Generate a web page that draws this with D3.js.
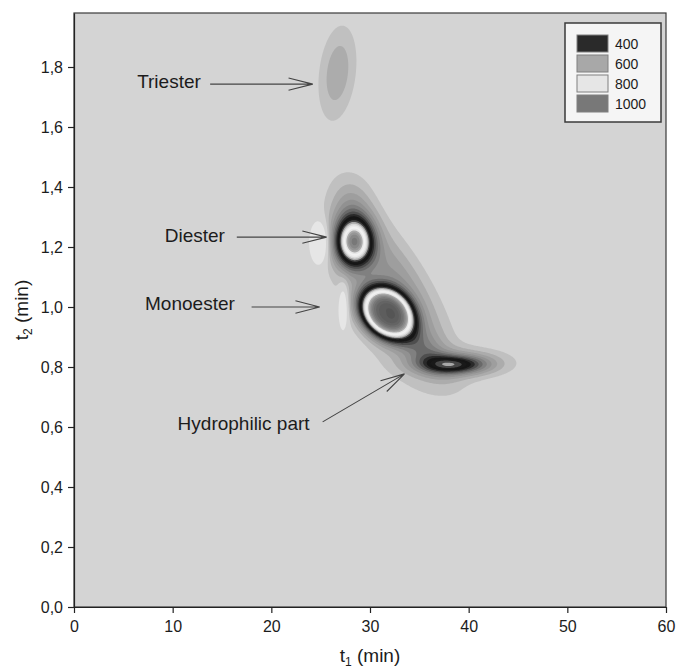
<!DOCTYPE html>
<html>
<head>
<meta charset="utf-8">
<script src="https://cdn.jsdelivr.net/npm/d3@7"></script>
<style>
  body { margin: 0; background: #ffffff; }
  svg { display: block; }
  text { font-family: "Liberation Sans", Arial, sans-serif; fill: #1c1c1c; }
</style>
</head>
<body>
<svg id="chart" width="683" height="669"></svg>
<script>
// ---- Axis ranges and tick labels (retention times, min) ----
const t1Domain = [0, 60];
const t2Domain = [0, 1.98];
const t1Ticks = [0, 10, 20, 30, 40, 50, 60];
const t2Ticks = [0.0, 0.2, 0.4, 0.6, 0.8, 1.0, 1.2, 1.4, 1.6, 1.8];

// ---- Signal components of the GCxGC surface ----
// centre (t1, t2), height, spread along t1 and t2, peak shape exponent,
// ridge slope (t2 per min of t1) and lean (min of t1 per unit of t2)
const compName   = ["Triester", "Diester", "Diester front", "Diester shoulder", "Monoester", "Monoester skirt", "Bridge", "Hydrophilic part", "Hydrophilic tail", "Baseline dip D", "Baseline dip M"];
const compT1     = [26.7,  28.4,  28.0,  32.8,  31.7,  32.0,  35.3,  38.5,   40.0,  24.9,  27.3];
const compT2     = [1.78,  1.215, 1.31,  1.10,  0.98,  0.97,  0.86,  0.808,  0.815, 1.215, 1.00];
const compHeight = [140,   850,   150,   140,   1000,  150,   140,   390,    130,   -280,  -200];
const compSdT1   = [1.3,   1.26,  1.5,   3.4,   2.15,  3.8,   2.0,   2.3,    3.2,   0.6,   0.35];
const compSdT2   = [0.11,  0.054, 0.08,  0.10,  0.066, 0.12,  0.05,  0.0215, 0.035, 0.045, 0.05];
const compShape  = [1,     1,     1,     1,     1.5,   1,     1,     1,      1,     1,     1];
const compSlope  = [0,     0,     0,     -0.04, -0.008, -0.03, -0.02, 0,     0,     0,     0];
const compLean   = [3,     0,     0,     0,     0,     0,     0,     0,      0,     0,     0];

// ---- Contour levels and grey scale ----
const levels = d3.range(50, 1251, 50);
const greyStops  = [-1000, 0,   50,  100, 150, 200, 250, 300, 350, 400, 450, 500, 550, 600, 650, 700, 750, 800, 850, 900, 950, 1000, 1100, 1200];
const greyValues = [230,   212, 192, 172, 158, 145, 128, 105, 78,  42,  22,  25,  70,  168, 215, 235, 242, 230, 170, 150, 135, 120,  100,  85];
const dipLevel = -40;
const dipGrey = 230;

// ---- Legend ----
const legendLevels = [400, 600, 800, 1000];

// ---- Annotations (positions in t1/t2 units) ----
const noteText  = ["Triester", "Diester", "Monoester", "Hydrophilic part"];
const noteTextT1 = [6.4, 9.2, 7.2, 10.5];
const noteTextT2 = [1.73, 1.217, 0.99, 0.59];
const noteFromT1 = [13.8, 16.5, 18.0, 25.2];
const noteFromT2 = [1.743, 1.233, 1.0, 0.617];
const noteToT1   = [24.2, 25.6, 24.9, 33.5];
const noteToT2   = [1.743, 1.233, 1.0, 0.777];

// ---- Layout ----
const svg = d3.select("#chart");
const plot = { left: 74, right: 666, top: 13, bottom: 607 };

const x = d3.scaleLinear().domain(t1Domain).range([plot.left, plot.right]);
const y = d3.scaleLinear().domain(t2Domain).range([plot.bottom, plot.top]);

const greyScale = d3.scaleLinear().domain(greyStops).range(greyValues).clamp(true);
const greyOf = v => { const g = Math.round(greyScale(v)); return `rgb(${g},${g},${g})`; };

// ---- Build the intensity grid from the components ----
const t1Step = 0.1, t2Step = 0.004;
const nx = Math.round((t1Domain[1] - t1Domain[0]) / t1Step) + 1;
const ny = Math.round((t2Domain[1] - t2Domain[0]) / t2Step) + 1;
const grid = new Float64Array(nx * ny);
for (let j = 0; j < ny; j++) {
  const t2 = t2Domain[0] + j * t2Step;
  for (let i = 0; i < nx; i++) {
    const t1 = t1Domain[0] + i * t1Step;
    let v = 0;
    for (let k = 0; k < compName.length; k++) {
      const dx = t1 - compT1[k], dy = t2 - compT2[k];
      const u = (dx - compLean[k] * dy) / compSdT1[k];
      const w = (dy - compSlope[k] * dx) / compSdT2[k];
      let q = u * u + w * w;
      if (q > 60) continue;
      if (compShape[k] !== 1) q = Math.pow(q, compShape[k]);
      v += compHeight[k] * Math.exp(-0.5 * q);
    }
    grid[j * nx + i] = v;
  }
}

// grid coordinates -> screen coordinates (grid samples sit at cell centres)
const gridProjection = d3.geoTransform({
  point: function (gx, gy) {
    this.stream.point(x(t1Domain[0] + (gx - 0.5) * t1Step), y(t2Domain[0] + (gy - 0.5) * t2Step));
  }
});
const path = d3.geoPath(gridProjection);

svg.append("defs").append("clipPath").attr("id", "plot-clip")
  .append("rect")
  .attr("x", plot.left).attr("y", plot.top)
  .attr("width", plot.right - plot.left).attr("height", plot.bottom - plot.top);

const surface = svg.append("g").attr("clip-path", "url(#plot-clip)");

surface.append("rect")
  .attr("x", plot.left).attr("y", plot.top)
  .attr("width", plot.right - plot.left).attr("height", plot.bottom - plot.top)
  .attr("fill", greyOf(0));

// regions below the baseline
const negGrid = grid.map(v => -v);
const dips = d3.contours().size([nx, ny]).thresholds([-dipLevel])(negGrid);
surface.selectAll("path.dip").data(dips).join("path")
  .attr("class", "dip")
  .attr("d", path)
  .attr("fill", `rgb(${dipGrey},${dipGrey},${dipGrey})`);

// filled contour bands
const bands = d3.contours().size([nx, ny]).thresholds(levels)(grid);
surface.selectAll("path.band").data(bands).join("path")
  .attr("class", "band")
  .attr("d", path)
  .attr("fill", d => greyOf(d.value));

// plot frame
svg.append("rect")
  .attr("x", plot.left).attr("y", plot.top)
  .attr("width", plot.right - plot.left).attr("height", plot.bottom - plot.top)
  .attr("fill", "none").attr("stroke", "#3a3a3a").attr("stroke-width", 1.2);

// ---- Axes ----
const fmtComma = v => d3.format(".1f")(v).replace(".", ",");

const xAxis = svg.append("g")
  .attr("transform", `translate(0,${plot.bottom})`)
  .call(d3.axisBottom(x).tickValues(t1Ticks).tickSize(6).tickPadding(8).tickSizeOuter(0));
const yAxis = svg.append("g")
  .attr("transform", `translate(${plot.left},0)`)
  .call(d3.axisLeft(y).tickValues(t2Ticks).tickFormat(fmtComma).tickSize(6).tickPadding(5).tickSizeOuter(0));

[xAxis, yAxis].forEach(a => {
  a.select(".domain").attr("stroke", "#222").attr("stroke-width", 1.2);
  a.selectAll(".tick line").attr("stroke", "#222").attr("stroke-width", 1.2);
  a.selectAll(".tick text")
    .attr("font-family", "'Liberation Sans', Arial, sans-serif")
    .attr("font-size", 16).attr("fill", "#1c1c1c");
});

// axis titles
const xTitle = svg.append("text")
  .attr("x", (plot.left + plot.right) / 2).attr("y", 662)
  .attr("text-anchor", "middle").attr("font-size", 19);
xTitle.append("tspan").text("t");
xTitle.append("tspan").attr("font-size", 12).attr("dy", 4).text("1");
xTitle.append("tspan").attr("dy", -4).text(" (min)");

const yTitle = svg.append("text")
  .attr("transform", `translate(28,${(plot.top + plot.bottom) / 2}) rotate(-90)`)
  .attr("text-anchor", "middle").attr("font-size", 19);
yTitle.append("tspan").text("t");
yTitle.append("tspan").attr("font-size", 12).attr("dy", 4).text("2");
yTitle.append("tspan").attr("dy", -4).text(" (min)");

// ---- Annotations with open arrow heads ----
const notes = svg.append("g");
noteText.forEach((label, i) => {
  notes.append("text")
    .attr("x", x(noteTextT1[i])).attr("y", y(noteTextT2[i]))
    .attr("font-size", 19).text(label);
  const x0 = x(noteFromT1[i]), y0 = y(noteFromT2[i]);
  const x1 = x(noteToT1[i]), y1 = y(noteToT2[i]);
  const ang = Math.atan2(y1 - y0, x1 - x0);
  const headLen = 25, headSpread = 0.25;
  const h1 = [x1 - headLen * Math.cos(ang - headSpread), y1 - headLen * Math.sin(ang - headSpread)];
  const h2 = [x1 - headLen * Math.cos(ang + headSpread), y1 - headLen * Math.sin(ang + headSpread)];
  notes.append("path")
    .attr("d", `M${x0},${y0}L${x1},${y1}M${h1[0]},${h1[1]}L${x1},${y1}L${h2[0]},${h2[1]}`)
    .attr("fill", "none").attr("stroke", "#444").attr("stroke-width", 1.1);
});

// ---- Legend ----
const legend = svg.append("g").attr("transform", "translate(565,23)");
legend.append("rect")
  .attr("width", 96).attr("height", 99)
  .attr("fill", "#f5f5f5").attr("stroke", "#3a3a3a").attr("stroke-width", 1.5);
legendLevels.forEach((lv, i) => {
  const row = legend.append("g").attr("transform", `translate(12,${12 + i * 20})`);
  row.append("rect").attr("width", 31).attr("height", 17)
    .attr("fill", greyOf(lv)).attr("stroke", "#808080").attr("stroke-width", 1);
  row.append("text").attr("x", 38).attr("y", 13.5)
    .attr("font-size", 14).text(lv);
});
</script>
</body>
</html>
